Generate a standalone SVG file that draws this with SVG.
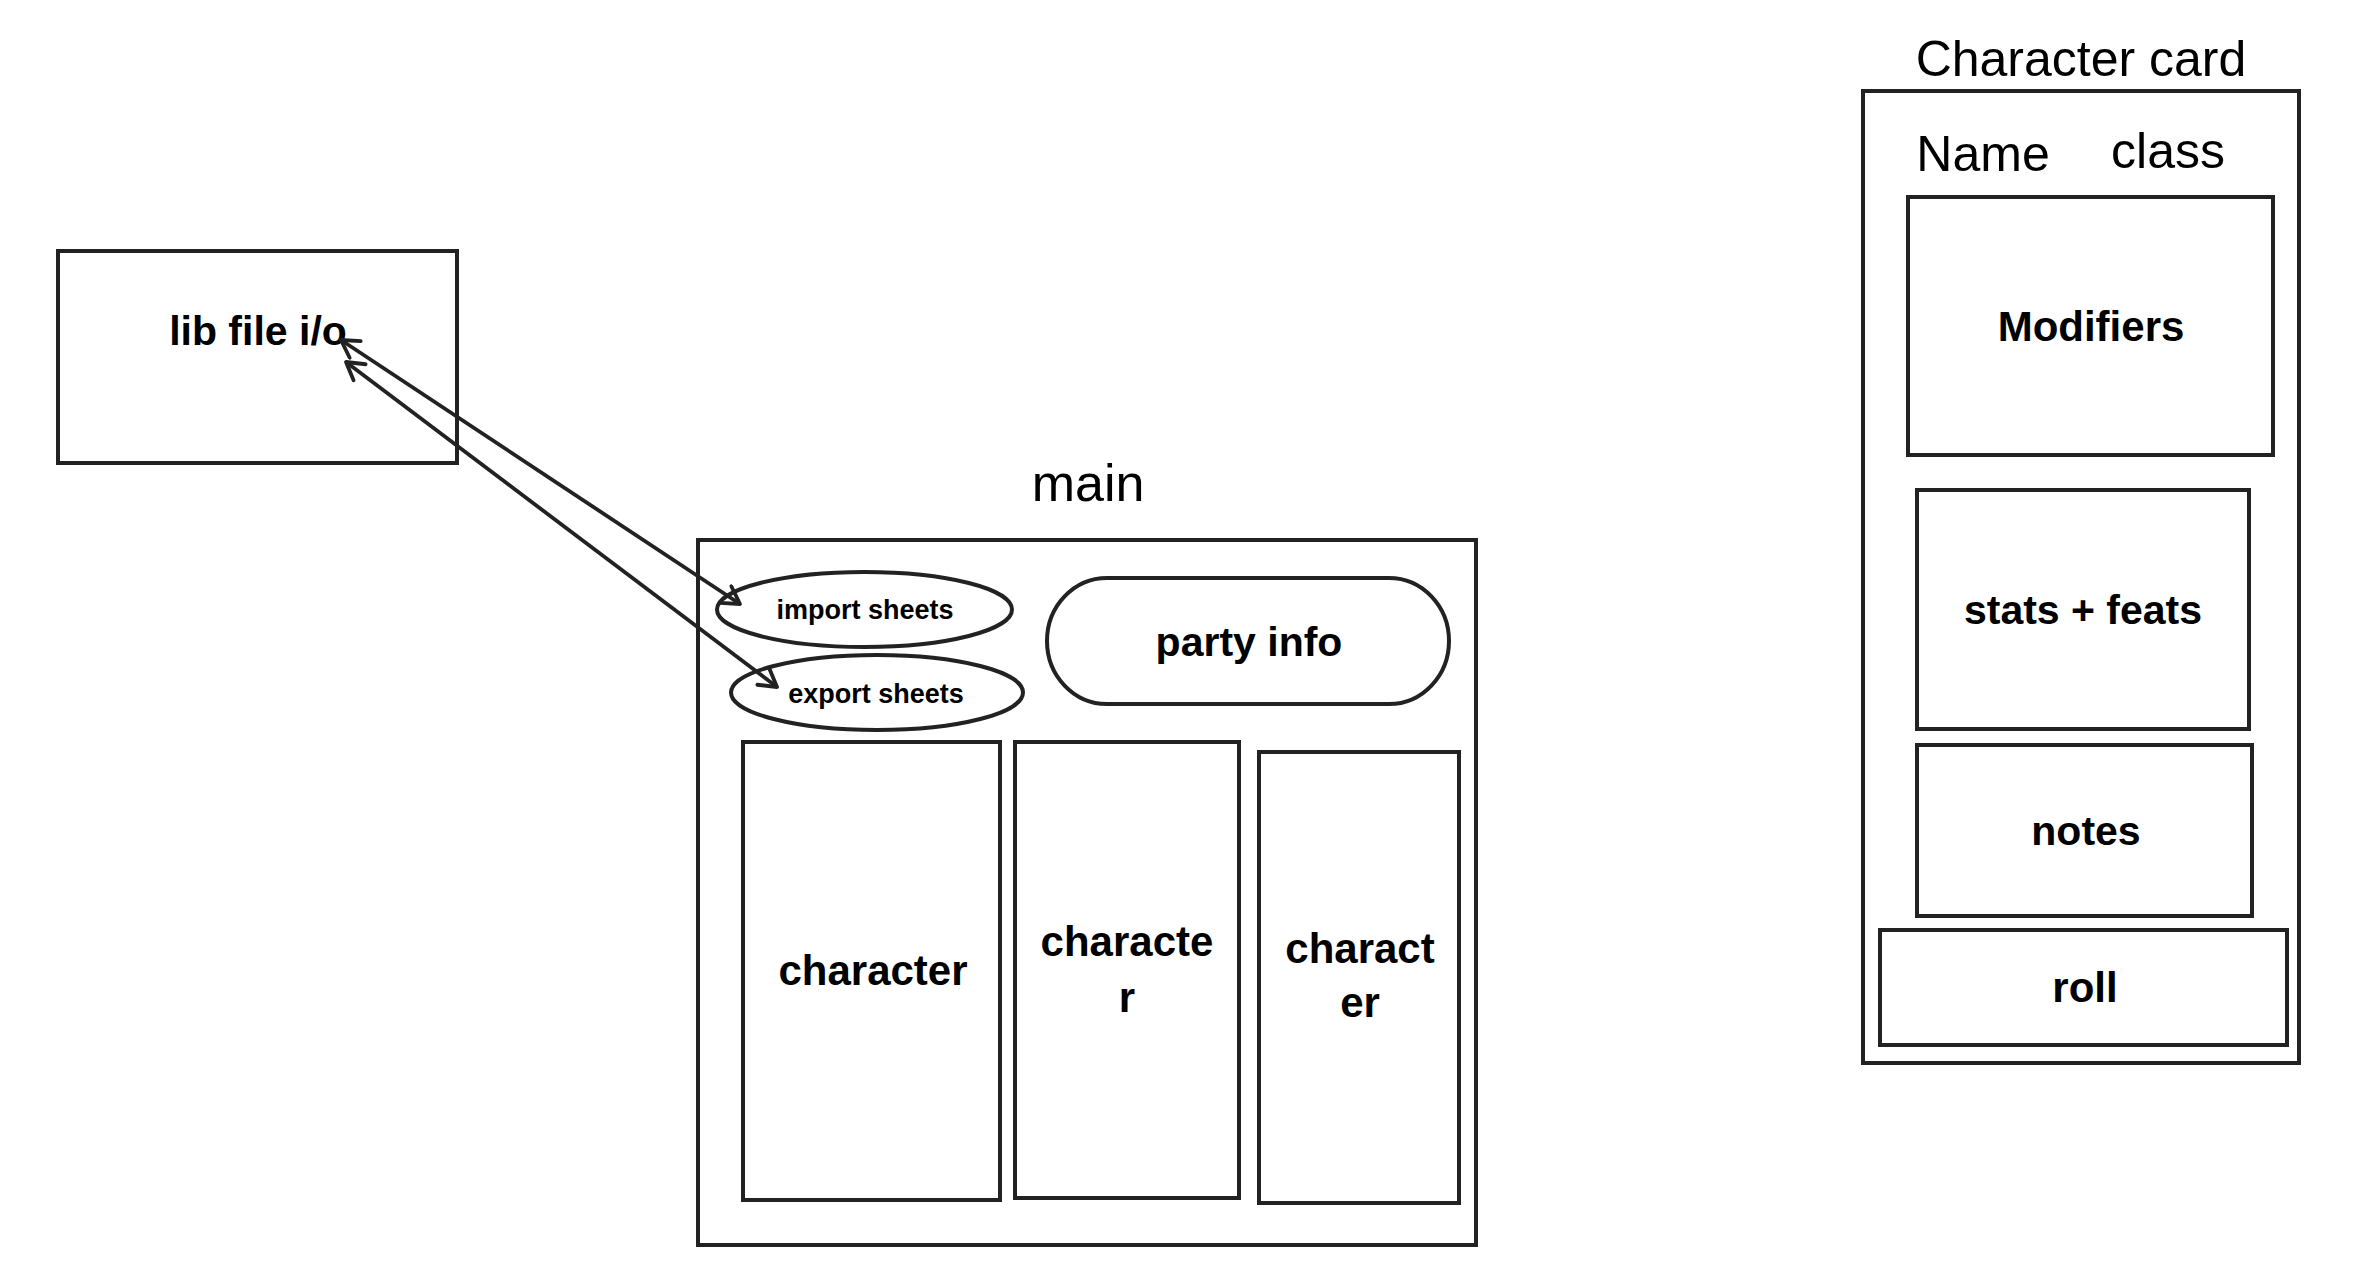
<svg xmlns="http://www.w3.org/2000/svg" width="2379" height="1287" viewBox="0 0 2379 1287">
<style>
.box{fill:none;stroke:#222;stroke-width:4}
.t{font-family:"Liberation Sans",Arial,sans-serif;fill:#000;text-anchor:middle}
.b{font-weight:bold}
.ln{fill:none;stroke:#222;stroke-width:3.8}
</style>
<defs>
<marker id="arr" viewBox="-20 -12 24 24" refX="0" refY="0" markerWidth="24" markerHeight="24" markerUnits="userSpaceOnUse" orient="auto-start-reverse">
<path d="M-17,-10 L0,0 L-17,10" fill="none" stroke="#222" stroke-width="3.8" stroke-linecap="round" stroke-linejoin="round"/>
</marker>
</defs>
<rect width="2379" height="1287" fill="#fff"/>
<g id="lib">
<rect class="box" x="58" y="251" width="399" height="212"/>
<text class="t b" x="258" y="345" font-size="41">lib file i/o</text>
</g>
<g id="main">
<rect class="box" x="698" y="540" width="778" height="705"/>
<text class="t" x="1088" y="501" font-size="52">main</text>
</g>
<g id="import">
<ellipse class="box" cx="864.5" cy="609.5" rx="147.5" ry="37.5"/>
<text class="t b" x="865" y="619" font-size="27">import sheets</text>
</g>
<g id="export">
<ellipse class="box" cx="877" cy="692.5" rx="146" ry="37.5"/>
<text class="t b" x="876" y="703" font-size="27">export sheets</text>
</g>
<g id="party">
<rect class="box" x="1047" y="578" width="402" height="126" rx="60" ry="63"/>
<text class="t b" x="1249" y="656" font-size="41">party info</text>
</g>
<g id="char1">
<rect class="box" x="743" y="742" width="257" height="458"/>
<text class="t b" x="873" y="985" font-size="42">character</text>
</g>
<g id="char2">
<rect class="box" x="1015" y="742" width="224" height="456"/>
<text class="t b" x="1127" y="956" font-size="42">characte</text>
<text class="t b" x="1127" y="1012" font-size="42">r</text>
</g>
<g id="char3">
<rect class="box" x="1259" y="752" width="200" height="451"/>
<text class="t b" x="1360" y="963" font-size="42">charact</text>
<text class="t b" x="1360" y="1017" font-size="42">er</text>
</g>
<g id="card">
<text class="t" x="2081" y="76" font-size="50">Character card</text>
<rect class="box" x="1863" y="91" width="436" height="972"/>
<text class="t" x="1983" y="171" font-size="50">Name</text>
<text class="t" x="2168" y="168" font-size="50">class</text>
</g>
<g id="modifiers">
<rect class="box" x="1908" y="197" width="365" height="258"/>
<text class="t b" x="2091" y="341" font-size="42">Modifiers</text>
</g>
<g id="stats">
<rect class="box" x="1917" y="490" width="332" height="239"/>
<text class="t b" x="2083" y="624" font-size="41">stats + feats</text>
</g>
<g id="notes">
<rect class="box" x="1917" y="745" width="335" height="171"/>
<text class="t b" x="2086" y="845" font-size="41">notes</text>
</g>
<g id="roll">
<rect class="box" x="1880" y="930" width="407" height="115"/>
<text class="t b" x="2085" y="1002" font-size="42">roll</text>
</g>
<g id="connectors">
<line class="ln" x1="341" y1="340" x2="740" y2="604" marker-start="url(#arr)" marker-end="url(#arr)"/>
<line class="ln" x1="346" y1="362" x2="777" y2="687" marker-start="url(#arr)" marker-end="url(#arr)"/>
</g>
</svg>
